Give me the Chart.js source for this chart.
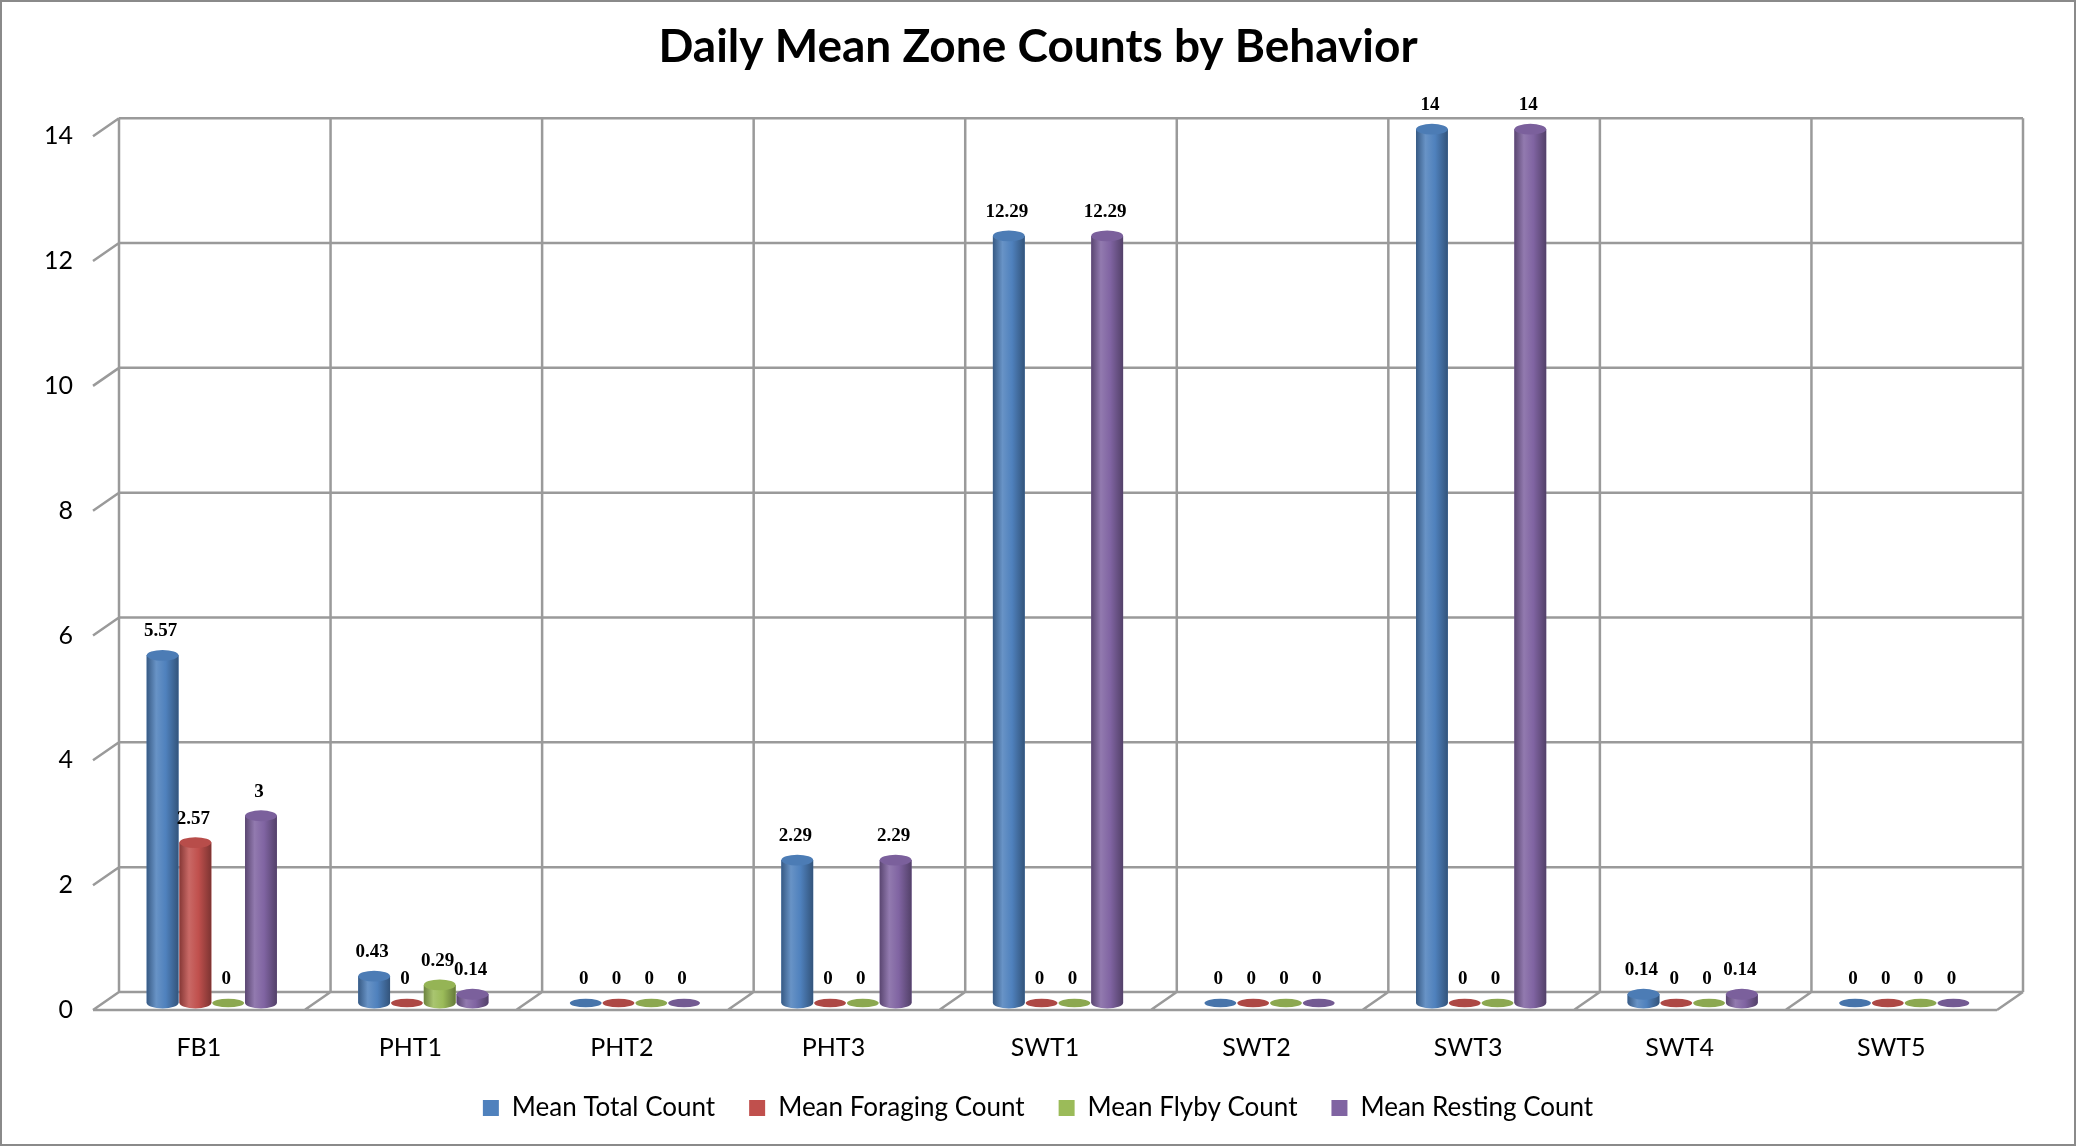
<!DOCTYPE html>
<html>
<head>
<meta charset="utf-8">
<script src="https://cdn.jsdelivr.net/npm/chart.js@4.4.1/dist/chart.umd.min.js"></script>
<style>
  html, body { margin: 0; padding: 0; background: #fff; }
  #wrap { width: 2076px; height: 1146px; }
</style>
</head>
<body>
<div id="wrap"><canvas id="zoneChart" width="2076" height="1146"></canvas></div>
<script>
const zones = ["FB1", "PHT1", "PHT2", "PHT3", "SWT1", "SWT2", "SWT3", "SWT4", "SWT5"];
const meanTotal    = [5.57, 0.43, 0, 2.29, 12.29, 0, 14, 0.14, 0];
const meanForaging = [2.57, 0, 0, 0, 0, 0, 0, 0, 0];
const meanFlyby    = [0, 0.29, 0, 0, 0, 0, 0, 0, 0];
const meanResting  = [3, 0.14, 0, 2.29, 12.29, 0, 14, 0.14, 0];
const yTicks = [0, 2, 4, 6, 8, 10, 12, 14];

const FONT = "Lato, 'Open Sans', sans-serif";
const GRID = "#9a9a9a";
const BACK = { dx: 13, dy: -11 };   // back wall offset
const FRONT = { dx: -13, dy: 7 };   // front edge offset

function shade(hex, f) {
    // f < 0 darker, f > 0 lighter
    const n = parseInt(hex.slice(1), 16);
    let r = n >> 16, g = (n >> 8) & 255, b = n & 255;
    const t = f < 0 ? 0 : 255, p = Math.abs(f);
    r = Math.round(r + (t - r) * p);
    g = Math.round(g + (t - g) * p);
    b = Math.round(b + (t - b) * p);
    return `rgb(${r},${g},${b})`;
}

// 3D-ish frame: back wall, left wall ticks and floor
const framePlugin = {
    id: "frame",
    beforeDraw(chart) {
        const ctx = chart.ctx;
        ctx.save();
        ctx.strokeStyle = "#8a8a8a";
        ctx.lineWidth = 2;
        ctx.strokeRect(1, 1, chart.width - 2, chart.height - 2);
        ctx.restore();
    },
    beforeDatasetsDraw(chart) {
        const { ctx, chartArea: a, scales } = chart;
        const y = scales.y;
        const n = zones.length;
        const cw = (a.right - a.left) / n;
        const y0 = y.getPixelForValue(0);
        const yTop = y.getPixelForValue(14);
        ctx.save();
        ctx.strokeStyle = GRID;
        ctx.lineWidth = 2.5;
        ctx.beginPath();
        yTicks.forEach(v => {
            const py = y.getPixelForValue(v);
            ctx.moveTo(a.left + BACK.dx, py + BACK.dy);
            ctx.lineTo(a.right + BACK.dx, py + BACK.dy);
            ctx.moveTo(a.left + FRONT.dx, py + FRONT.dy);
            ctx.lineTo(a.left + BACK.dx, py + BACK.dy);
        });
        for (let i = 0; i <= n; i++) {
            const px = a.left + i * cw;
            ctx.moveTo(px + BACK.dx, yTop + BACK.dy);
            ctx.lineTo(px + BACK.dx, y0 + BACK.dy);
            ctx.moveTo(px + FRONT.dx, y0 + FRONT.dy);
            ctx.lineTo(px + BACK.dx, y0 + BACK.dy);
        }
        ctx.moveTo(a.left + FRONT.dx, y0 + FRONT.dy);
        ctx.lineTo(a.right + FRONT.dx, y0 + FRONT.dy);
        ctx.stroke();
        ctx.restore();
    }
};

// redraw each bar as a shaded cylinder and add the value label
const cylinderPlugin = {
    id: "cylinder",
    afterDatasetsDraw(chart) {
        const ctx = chart.ctx;
        chart.data.datasets.forEach((ds, di) => {
            const meta = chart.getDatasetMeta(di);
            meta.data.forEach((bar, i) => {
                const { x, y, base, width } = bar.getProps(["x", "y", "base", "width"], true);
                const w = width, l = x - w / 2, r = x + w / 2;
                const ry = w * 0.17;
                const col = ds.baseColor;
                ctx.save();
                if (base - y > 0.5) {
                    const g = ctx.createLinearGradient(l, 0, r, 0);
                    g.addColorStop(0, shade(col, -0.3));
                    g.addColorStop(0.3, shade(col, 0.14));
                    g.addColorStop(0.6, col);
                    g.addColorStop(1, shade(col, -0.35));
                    ctx.fillStyle = g;
                    ctx.beginPath();
                    ctx.moveTo(l, y);
                    ctx.lineTo(l, base);
                    ctx.ellipse(x, base, w / 2, ry, 0, Math.PI, 0, true);
                    ctx.lineTo(r, y);
                    ctx.closePath();
                    ctx.fill();
                    ctx.fillStyle = shade(col, -0.04);
                    ctx.beginPath();
                    ctx.ellipse(x, y, w / 2, ry, 0, 0, Math.PI * 2);
                    ctx.fill();
                } else {
                    ctx.fillStyle = shade(col, -0.1);
                    ctx.beginPath();
                    ctx.ellipse(x, base, w / 2, ry * 0.8, 0, 0, Math.PI * 2);
                    ctx.fill();
                }
                ctx.fillStyle = "#000";
                ctx.font = "bold 19px 'Liberation Serif', 'DejaVu Serif', serif";
                ctx.textAlign = "center";
                ctx.textBaseline = "middle";
                ctx.fillText(String(ds.data[i]), x - 2, y - 24);
                ctx.restore();
            });
        });
    }
};

function makeSet(label, data, color) {
    return {
        label: label,
        data: data,
        baseColor: color,
        backgroundColor: color,
        borderWidth: 0,
        barPercentage: 0.97,
        categoryPercentage: 0.62,
    };
}

new Chart(document.getElementById("zoneChart"), {
    type: "bar",
    data: {
        labels: zones,
        datasets: [
            makeSet("Mean Total Count", meanTotal, "#4F81BD"),
            makeSet("Mean Foraging Count", meanForaging, "#C0504D"),
            makeSet("Mean Flyby Count", meanFlyby, "#9BBB59"),
            makeSet("Mean Resting Count", meanResting, "#8064A2"),
        ]
    },
    options: {
        responsive: false,
        animation: false,
        layout: { padding: { left: 0, right: 0, top: 0, bottom: 15 } },
        scales: {
            x: {
                grid: { display: false, drawTicks: false },
                border: { display: false },
                afterFit: s => { s.height = 58; },
                ticks: {
                    color: "#000",
                    font: { family: FONT, size: 25 },
                    padding: 30,
                    labelOffset: -13
                }
            },
            y: {
                min: 0,
                max: 14,
                grid: { display: false, drawTicks: false },
                border: { display: false },
                afterFit: s => { s.width = 106; },
                afterBuildTicks: s => { s.ticks = yTicks.map(v => ({ value: v })); },
                ticks: {
                    color: "#000",
                    font: { family: FONT, size: 25 },
                    padding: 33,
                    labelOffset: 7
                }
            },
            // empty right margin so title and legend stay centred on the page
            spacer: {
                position: "right",
                min: 0,
                max: 14,
                grid: { display: false, drawTicks: false },
                border: { display: false },
                ticks: { display: false },
                afterFit: s => { s.width = 66; }
            }
        },
        plugins: {
            title: {
                display: true,
                text: "Daily Mean Zone Counts by Behavior",
                color: "#000",
                font: { family: FONT, size: 46, weight: "bold" },
                padding: { top: 20, bottom: 54 }
            },
            legend: {
                position: "bottom",
                labels: {
                    color: "#000",
                    font: { family: FONT, size: 26 },
                    boxWidth: 16,
                    boxHeight: 16,
                    padding: 34,
                    generateLabels: chart => chart.data.datasets.map((ds, i) => ({
                        text: ds.label,
                        fillStyle: ds.baseColor,
                        strokeStyle: ds.baseColor,
                        lineWidth: 0,
                        datasetIndex: i,
                        fontColor: "#000"
                    }))
                }
            },
            tooltip: { enabled: false }
        }
    },
    plugins: [framePlugin, cylinderPlugin]
});
</script>
</body>
</html>
